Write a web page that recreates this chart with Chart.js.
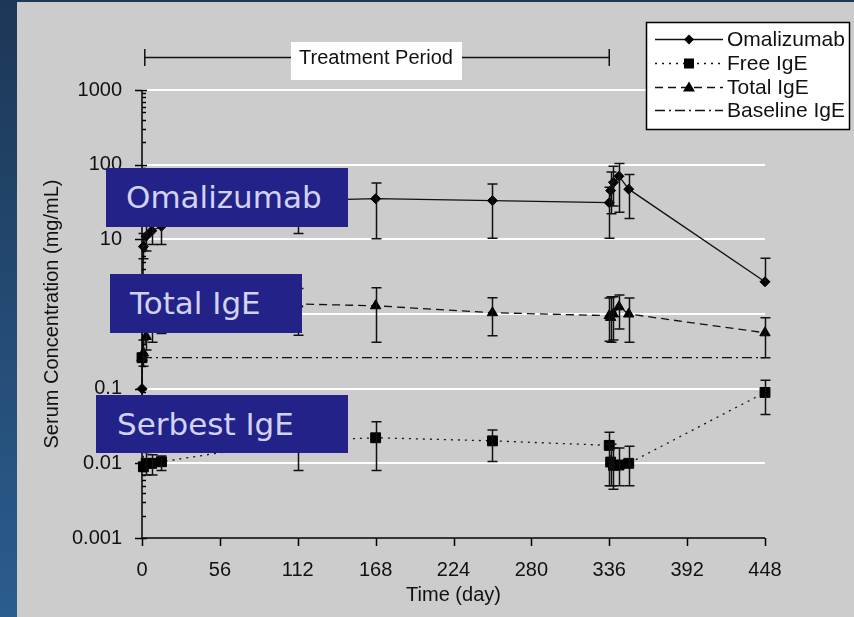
<!DOCTYPE html>
<html>
<head>
<meta charset="utf-8">
<script src="https://cdn.jsdelivr.net/npm/chart.js"></script>
<style>
html, body { margin: 0; padding: 0; }
body { width: 854px; height: 617px; position: relative; overflow: hidden; background: linear-gradient(#1c3757, #2b5d8e); }
#panel { position: absolute; left: 17px; top: 2px; width: 837px; height: 615px; background: #cccccc; }
#wrap { position: absolute; left: 0; top: 0; width: 854px; height: 617px; }
.tag { position: absolute; background: #222288; color: #d2d2f4; font-family: "DejaVu Sans", Verdana, sans-serif; font-size: 31px; line-height: 1; display: flex; align-items: center; box-sizing: border-box; padding-left: 20px; }
</style>
</head>
<body>
<div id="panel"></div>
<div id="wrap"><canvas id="chart" width="854" height="617"></canvas></div>
<div class="tag" style="left:106px;top:168px;width:242px;height:59px">Omalizumab</div>
<div class="tag" style="left:110px;top:274px;width:192px;height:59px">Total IgE</div>
<div class="tag" style="left:96px;top:395px;width:252px;height:58px;padding-left:21px">Serbest IgE</div>
<script>
// veriler
const days = [0, 1, 3, 7, 14, 112, 168, 252, 336, 337, 339, 343, 350, 448];

const omalizumab   = [0.1, 8, 11, 13, 15, 33, 35, 33, 31, 45, 58, 70, 47, 2.7];
const omalizumabLo = [0.1, 5.5, 7, 8.5, 8.5, 12, 10.2, 10.3, 10.3, 22, 28, 23, 19, 2.7];
const omalizumabHi = [0.1, 12, 18, 22, 25, 60, 57, 55, 50, 80, 95, 104, 74, 5.6];

const freeIgE   = [0.26, 0.009, 0.01, 0.01, 0.0105, 0.02, 0.022, 0.02, 0.0174, 0.0104, 0.0094, 0.0095, 0.01, 0.089];
const freeIgELo = [0.26, 0.009, 0.007, 0.007, 0.008, 0.008, 0.008, 0.0106, 0.005, 0.005, 0.0045, 0.005, 0.005, 0.045];
const freeIgEHi = [0.26, 0.009, 0.014, 0.013, 0.0125, 0.035, 0.036, 0.028, 0.026, 0.018, 0.016, 0.016, 0.017, 0.13];

const totalIgE   = [0.26, 0.3, 0.5, 0.8, 1.0, 1.36, 1.29, 1.04, 0.95, 0.9, 1.0, 1.25, 1.0, 0.56];
const totalIgELo = [0.26, 0.2, 0.33, 0.42, 0.55, 0.52, 0.42, 0.51, 0.43, 0.42, 0.45, 0.63, 0.42, 0.26];
const totalIgEHi = [0.26, 0.45, 0.75, 1.5, 1.8, 2.2, 2.25, 1.65, 1.64, 1.7, 1.7, 1.8, 1.64, 0.89];

const baselineDays = [0, 448];
const baselineIgE  = [0.26, 0.26];

const treatmentDays = [2, 336];

const xTicks = [0, 56, 112, 168, 224, 280, 336, 392, 448];
const xTickLabels = ['0', '56', '112', '168', '224', '280', '336', '392', '448'];
const yTicks = [0.001, 0.01, 0.1, 1, 10, 100, 1000];
const yTickLabels = ['0.001', '0.01', '0.1', '1', '10', '100', '1000'];

const FONT = '"Liberation Sans", Arial, sans-serif';

function pts(xs, ys) {
    return xs.map((d, i) => ({ x: d, y: ys[i] }));
}

function marker(ctx, style, x, y) {
    ctx.beginPath();
    if (style === 'rectRot') {
        ctx.moveTo(x, y - 5); ctx.lineTo(x + 5, y); ctx.lineTo(x, y + 5); ctx.lineTo(x - 5, y);
    } else if (style === 'rect') {
        ctx.rect(x - 5, y - 5, 10, 10);
    } else if (style === 'triangle') {
        ctx.moveTo(x, y - 6); ctx.lineTo(x + 6, y + 4); ctx.lineTo(x - 6, y + 4);
    } else {
        return;
    }
    ctx.closePath();
    ctx.fill();
}

const errorSets = [
    { val: omalizumab, lo: omalizumabLo, hi: omalizumabHi },
    { val: freeIgE, lo: freeIgELo, hi: freeIgEHi },
    { val: totalIgE, lo: totalIgELo, hi: totalIgEHi }
];

const legendItems = [
    { text: 'Omalizumab', dash: [], style: 'rectRot' },
    { text: 'Free IgE', dash: [2, 5], style: 'rect' },
    { text: 'Total IgE', dash: [8, 5], style: 'triangle' },
    { text: 'Baseline IgE', dash: [10, 4, 2, 4], style: null }
];

const decor = {
    id: 'decor',
    beforeDatasetsDraw(chart) {
        const { ctx, chartArea: a, scales: { y } } = chart;
        ctx.save();
        ctx.strokeStyle = '#ffffff';
        ctx.lineWidth = 2;
        yTicks.forEach(v => {
            if (v <= y.min) return;
            const py = Math.round(y.getPixelForValue(v));
            ctx.beginPath(); ctx.moveTo(a.left, py); ctx.lineTo(a.right, py); ctx.stroke();
        });
        ctx.restore();
    },
    afterDatasetsDraw(chart) {
        const { ctx, chartArea: a, scales: { x, y } } = chart;
        ctx.save();
        // hata çubukları
        ctx.strokeStyle = '#111';
        ctx.lineWidth = 1.5;
        errorSets.forEach(s => {
            days.forEach((d, i) => {
                if (s.hi[i] === s.lo[i]) return;
                const px = Math.round(x.getPixelForValue(d)) + 0.5;
                const top = y.getPixelForValue(s.hi[i]);
                const bot = y.getPixelForValue(s.lo[i]);
                ctx.beginPath();
                ctx.moveTo(px, top); ctx.lineTo(px, bot);
                if (s.hi[i] !== s.val[i]) { ctx.moveTo(px - 5, top); ctx.lineTo(px + 5, top); }
                if (s.lo[i] !== s.val[i]) { ctx.moveTo(px - 5, bot); ctx.lineTo(px + 5, bot); }
                ctx.stroke();
            });
        });
        // eksenler
        ctx.strokeStyle = '#000';
        ctx.lineWidth = 1.5;
        ctx.beginPath();
        ctx.moveTo(a.left, a.top); ctx.lineTo(a.left, a.bottom); ctx.lineTo(a.right, a.bottom);
        yTicks.forEach(v => {
            const py = Math.round(y.getPixelForValue(v)) + 0.5;
            ctx.moveTo(a.left - 7, py); ctx.lineTo(a.left + 5, py);
        });
        for (let i = 0; i < yTicks.length - 1; i++) {
            for (let k = 2; k <= 9; k++) {
                const py = Math.round(y.getPixelForValue(yTicks[i] * k)) + 0.5;
                ctx.moveTo(a.left, py); ctx.lineTo(a.left + 4, py);
            }
        }
        xTicks.forEach(v => {
            const px = Math.round(x.getPixelForValue(v)) + 0.5;
            ctx.moveTo(px, a.bottom); ctx.lineTo(px, a.bottom + 8);
        });
        ctx.stroke();
        ctx.restore();
    },
    afterDraw(chart) {
        const { ctx, scales: { x } } = chart;
        ctx.save();
        // tedavi dönemi
        const x0 = x.getPixelForValue(treatmentDays[0]);
        const x1 = x.getPixelForValue(treatmentDays[1]);
        ctx.strokeStyle = '#111';
        ctx.lineWidth = 1.5;
        ctx.beginPath();
        ctx.moveTo(x0, 57.5); ctx.lineTo(x1, 57.5);
        ctx.moveTo(x0, 49); ctx.lineTo(x0, 66);
        ctx.moveTo(x1, 49); ctx.lineTo(x1, 66);
        ctx.stroke();
        ctx.fillStyle = '#fff';
        ctx.fillRect(291, 42, 171, 38);
        ctx.fillStyle = '#111';
        ctx.font = '20px ' + FONT;
        ctx.textAlign = 'center';
        ctx.textBaseline = 'middle';
        ctx.fillText('Treatment Period', 376, 58);

        // lejant
        ctx.fillStyle = '#fff';
        ctx.fillRect(646, 22, 204, 108);
        ctx.strokeStyle = '#000';
        ctx.lineWidth = 1.5;
        ctx.strokeRect(646.5, 22.5, 203, 107);
        const rows = [39, 63, 87, 110];
        ctx.font = '21px ' + FONT;
        ctx.textAlign = 'left';
        legendItems.forEach((it, i) => {
            const ry = rows[i] + 0.5;
            ctx.setLineDash(it.dash);
            ctx.lineWidth = 1.3;
            ctx.strokeStyle = '#111';
            ctx.beginPath(); ctx.moveTo(655, ry); ctx.lineTo(723, ry); ctx.stroke();
            ctx.setLineDash([]);
            ctx.fillStyle = '#000';
            marker(ctx, it.style, 689, ry);
            ctx.fillStyle = '#111';
            ctx.fillText(it.text, 727, rows[i] + 1);
        });
        ctx.restore();
    }
};

new Chart(document.getElementById('chart'), {
    type: 'line',
    data: {
        datasets: [
            {
                label: 'Baseline IgE', data: pts(baselineDays, baselineIgE),
                borderColor: '#111', borderWidth: 1.3, borderDash: [10, 4, 2, 4], pointRadius: 0
            },
            {
                label: 'Omalizumab', data: pts(days, omalizumab), clip: false,
                borderColor: '#111', borderWidth: 1.3, pointStyle: 'rectRot', pointRadius: 5,
                pointBackgroundColor: '#000', pointBorderColor: '#000', pointBorderWidth: 1
            },
            {
                label: 'Free IgE', data: pts(days, freeIgE), clip: false,
                borderColor: '#111', borderWidth: 1.3, borderDash: [2, 5], pointStyle: 'rect', pointRadius: 7,
                pointBackgroundColor: '#000', pointBorderColor: '#000', pointBorderWidth: 1
            },
            {
                label: 'Total IgE', data: pts(days, totalIgE), clip: false,
                borderColor: '#111', borderWidth: 1.3, borderDash: [8, 5], pointStyle: 'triangle', pointRadius: 6,
                pointBackgroundColor: '#000', pointBorderColor: '#000', pointBorderWidth: 1
            }
        ]
    },
    options: {
        responsive: false,
        animation: false,
        devicePixelRatio: 1,
        layout: { padding: { left: 0, top: 90, right: 89, bottom: 0 } },
        plugins: { legend: { display: false }, tooltip: { enabled: false } },
        scales: {
            x: {
                type: 'linear', min: 0, max: 448,
                afterBuildTicks: s => { s.ticks = xTicks.map(v => ({ value: v })); },
                afterFit: s => { s.height = 79; },
                grid: { display: false, drawTicks: false },
                border: { display: false },
                ticks: {
                    autoSkip: false, maxRotation: 0, padding: 20, color: '#111',
                    font: { family: FONT, size: 20 },
                    callback: (v, i) => xTickLabels[i]
                },
                title: {
                    display: true, text: 'Time (day)', color: '#111',
                    font: { family: FONT, size: 20 }, padding: { top: 0, bottom: 10 }
                }
            },
            y: {
                type: 'logarithmic', min: 0.001, max: 1000,
                afterBuildTicks: s => { s.ticks = yTicks.map(v => ({ value: v })); },
                afterFit: s => { s.width = 142; },
                grid: { display: false, drawTicks: false },
                border: { display: false },
                ticks: {
                    autoSkip: false, padding: 20, color: '#111',
                    font: { family: FONT, size: 20 },
                    callback: (v, i) => yTickLabels[i]
                },
                title: {
                    display: true, text: 'Serum Concentration (mg/mL)', color: '#111',
                    font: { family: FONT, size: 20 }, padding: { top: 40, bottom: 0 }
                }
            }
        }
    },
    plugins: [decor]
});
</script>
</body>
</html>
